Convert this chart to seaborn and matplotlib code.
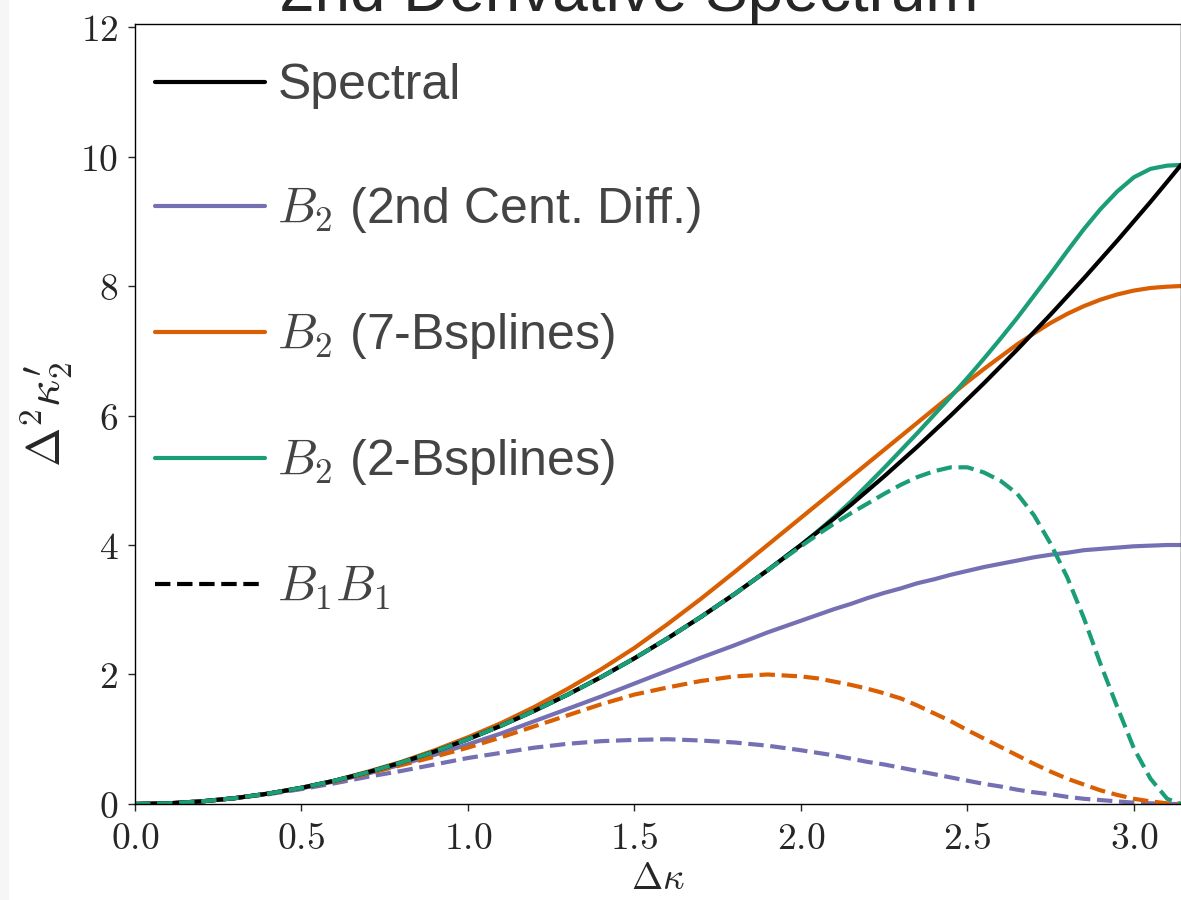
import matplotlib
matplotlib.use("Agg")
import matplotlib.pyplot as plt
from matplotlib.lines import Line2D
from matplotlib.patches import Rectangle
import seaborn as sns

# wavenumber grid (denser near the Nyquist end)
k = [0.0, 0.1, 0.2, 0.3, 0.4, 0.5, 0.6, 0.7, 0.8, 0.9, 1.0, 1.1, 1.2, 1.3, 1.4,
     1.5, 1.6, 1.7, 1.8, 1.9, 2.0, 2.05, 2.1, 2.15, 2.2, 2.25, 2.3, 2.35, 2.4,
     2.45, 2.5, 2.55, 2.6, 2.65, 2.7, 2.75, 2.8, 2.85, 2.9, 2.95, 3.0, 3.05,
     3.1, 3.1416]

spectral = [0, .01, .04, .09, .16, .25, .36, .49, .64, .81, 1.00, 1.21, 1.44,
            1.69, 1.96, 2.25, 2.56, 2.89, 3.24, 3.61, 4.00, 4.20, 4.41, 4.62,
            4.84, 5.06, 5.29, 5.52, 5.76, 6.00, 6.25, 6.50, 6.76, 7.02, 7.29,
            7.56, 7.84, 8.12, 8.41, 8.70, 9.00, 9.30, 9.61, 9.87]

# 2nd central difference
cent_b2 = [0, .01, .04, .09, .16, .24, .35, .47, .61, .76, .92, 1.09, 1.28,
           1.47, 1.66, 1.86, 2.06, 2.26, 2.45, 2.65, 2.83, 2.92, 3.01, 3.09,
           3.18, 3.26, 3.33, 3.41, 3.47, 3.54, 3.60, 3.66, 3.71, 3.76, 3.81,
           3.85, 3.88, 3.92, 3.94, 3.96, 3.98, 3.99, 4.00, 4.00]
cent_b1b1 = [0, .01, .04, .09, .15, .23, .32, .42, .51, .61, .71, .79, .87,
             .93, .97, .99, 1.00, .98, .95, .90, .83, .79, .75, .70, .65, .61,
             .56, .51, .46, .41, .36, .31, .27, .22, .18, .15, .11, .08, .06,
             .04, .02, .01, .00, 0]

# 7 B-splines
b7_b2 = [0, .01, .04, .09, .16, .25, .36, .50, .65, .83, 1.03, 1.25, 1.50,
         1.78, 2.08, 2.41, 2.78, 3.17, 3.58, 4.00, 4.42, 4.63, 4.84, 5.05,
         5.26, 5.47, 5.68, 5.89, 6.10, 6.31, 6.52, 6.72, 6.91, 7.10, 7.27,
         7.43, 7.57, 7.69, 7.79, 7.87, 7.93, 7.97, 7.99, 8.00]
b7_b1b1 = [0, .01, .04, .09, .16, .25, .35, .47, .60, .73, .87, 1.03, 1.20,
           1.37, 1.54, 1.69, 1.80, 1.90, 1.97, 2.00, 1.97, 1.94, 1.89, 1.84,
           1.78, 1.71, 1.63, 1.52, 1.40, 1.28, 1.14, 1.01, .88, .75, .62, .50,
           .39, .30, .21, .14, .08, .04, .01, 0]

# 2 B-splines
b2_b2 = [0, .01, .04, .09, .16, .25, .36, .49, .64, .81, 1.00, 1.21, 1.44,
         1.69, 1.96, 2.25, 2.56, 2.89, 3.24, 3.61, 4.00, 4.21, 4.43, 4.67,
         4.93, 5.19, 5.46, 5.73, 6.01, 6.29, 6.58, 6.88, 7.19, 7.51, 7.85,
         8.19, 8.54, 8.88, 9.19, 9.46, 9.68, 9.81, 9.86, 9.87]
b2_b1b1 = [0, .01, .04, .09, .16, .25, .36, .49, .64, .81, 1.00, 1.21, 1.44,
           1.69, 1.96, 2.25, 2.56, 2.89, 3.24, 3.61, 3.98, 4.16, 4.33, 4.49,
           4.64, 4.79, 4.93, 5.05, 5.14, 5.20, 5.20, 5.12, 4.99, 4.79, 4.46,
           4.02, 3.50, 2.87, 2.16, 1.50, 0.86, 0.39, 0.08, 0]

xticks = [0.0, 0.5, 1.0, 1.5, 2.0, 2.5, 3.0]
xticklabels = ["$0.0$", "$0.5$", "$1.0$", "$1.5$", "$2.0$", "$2.5$", "$3.0$"]
yticks = [0, 2, 4, 6, 8, 10, 12]
yticklabels = ["$0$", "$2$", "$4$", "$6$", "$8$", "$10$", "$12$"]

legend_labels = ["Spectral", "$B_2$ (2nd Cent. Diff.)", "$B_2$ (7-Bsplines)",
                 "$B_2$ (2-Bsplines)", "$B_1B_1$"]

purple, orange, green = "#7570b3", "#d95f02", "#1b9e77"

sns.set_style("ticks")
plt.rcParams["font.family"] = ["Liberation Sans", "DejaVu Sans"]
plt.rcParams["mathtext.fontset"] = "cm"

fig = plt.figure(figsize=(11.81, 9), dpi=100)
fig.patches.append(Rectangle((0, 0), 8 / 1181, 1, transform=fig.transFigure,
                             color="#f6f6f6", zorder=0))
ax = fig.add_axes([0.1143, 0.1067, 0.8857, 0.8661])

lw = 3
sns.lineplot(x=k, y=cent_b2, color=purple, lw=lw, ax=ax)
sns.lineplot(x=k, y=cent_b1b1, color=purple, lw=lw, linestyle="--", ax=ax)
sns.lineplot(x=k, y=b7_b2, color=orange, lw=lw, ax=ax)
sns.lineplot(x=k, y=b7_b1b1, color=orange, lw=lw, linestyle="--", ax=ax)
sns.lineplot(x=k, y=b2_b2, color=green, lw=lw, ax=ax)
sns.lineplot(x=k, y=spectral, color="black", lw=lw, ax=ax)
sns.lineplot(x=k, y=b2_b1b1, color=green, lw=lw, linestyle="--", ax=ax)

ax.set_xlim(0, 3.1416)
ax.set_ylim(0, 12.04)
ax.set_xticks(xticks, labels=xticklabels)
ax.set_yticks(yticks, labels=yticklabels)
ax.tick_params(labelsize=27, length=5, width=1, pad=7, direction="out")
for s in ax.spines.values():
    s.set_linewidth(1.0)
    s.set_color("black")

ax.set_xlabel(r"$\Delta\kappa$", fontsize=27, labelpad=3)
ax.set_ylabel(r"$\Delta^2\kappa_2'$", fontsize=34, labelpad=4)
ax.set_title("2nd Derivative Spectrum", fontsize=46, x=0.472, pad=10)

handles = [Line2D([], [], color="black", lw=lw),
           Line2D([], [], color=purple, lw=lw),
           Line2D([], [], color=orange, lw=lw),
           Line2D([], [], color=green, lw=lw),
           Line2D([], [], color="black", lw=lw, linestyle="--")]
ax.legend(handles, legend_labels, loc="upper left", frameon=False,
          bbox_to_anchor=(0.0, 0.976), fontsize=36, labelcolor="#444444",
          handlelength=2.2, handletextpad=0.25, labelspacing=1.52,
          borderaxespad=0.2, borderpad=0.2)

fig.savefig("out.png", dpi=100)
